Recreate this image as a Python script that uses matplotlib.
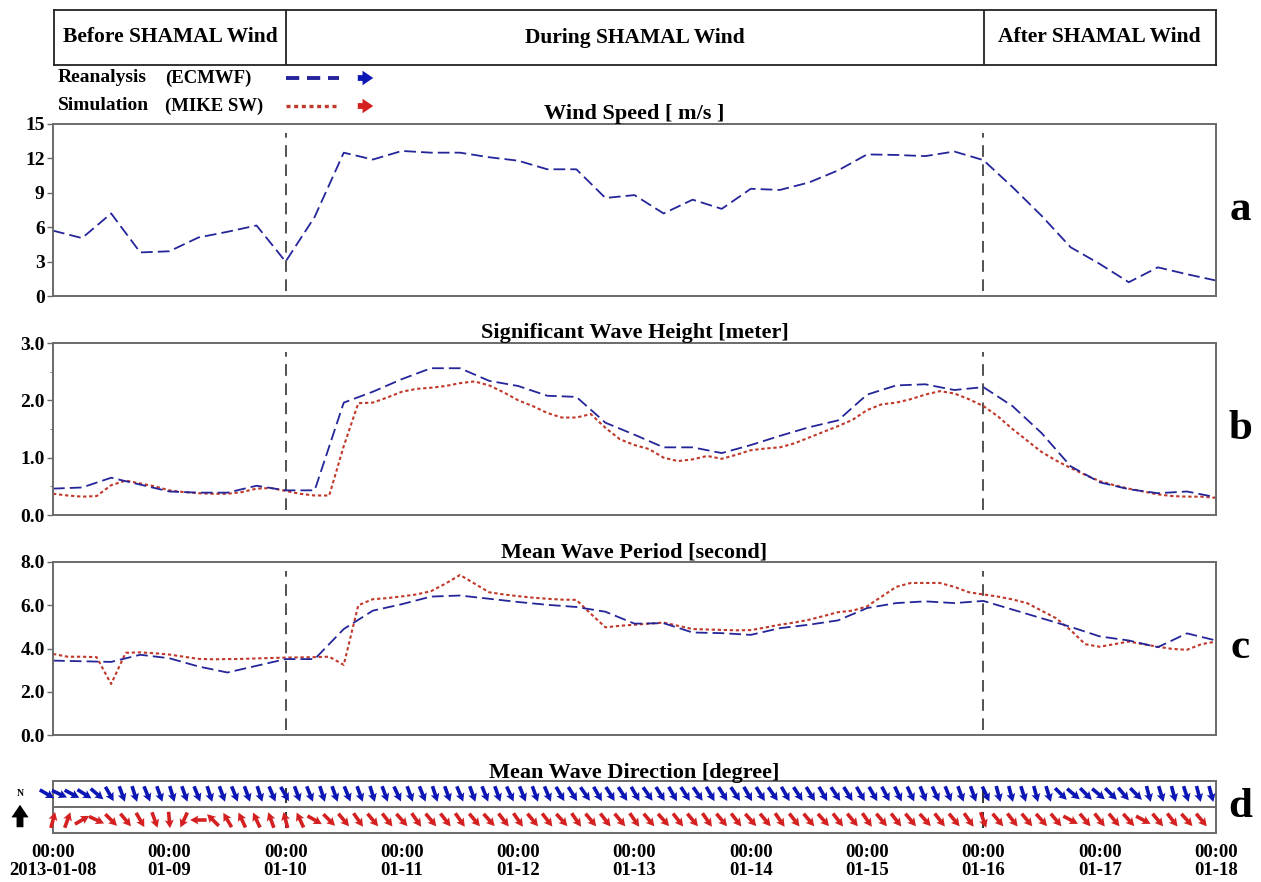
import numpy as np
import pandas as pd
import matplotlib
matplotlib.use("Agg")
import matplotlib.pyplot as plt
import matplotlib.dates as mdates
from matplotlib.lines import Line2D
from matplotlib.patches import FancyArrowPatch
from matplotlib.ticker import FormatStrFormatter, MultipleLocator

plt.rcParams['font.family'] = ['Liberation Serif', 'DejaVu Serif']
plt.rcParams['font.weight'] = 'bold'
plt.rcParams['axes.titleweight'] = 'bold'

# ---------------- data ----------------
t6 = pd.date_range('2013-01-08 00:00', periods=41, freq='6h')   # ECMWF
t3 = pd.date_range('2013-01-08 00:00', periods=81, freq='3h')   # MIKE SW

wind_ecmwf = [5.7, 5.05, 7.2, 3.8, 3.9, 5.1, 5.6, 6.15, 3.0, 6.9,
              12.5, 11.9, 12.65, 12.5, 12.5, 12.1, 11.8, 11.05, 11.05, 8.55,
              8.8, 7.2, 8.4, 7.6, 9.35, 9.25, 9.9, 10.95, 12.35, 12.3,
              12.2, 12.6, 11.85, 9.5, 7.0, 4.25, 2.8, 1.2, 2.5, 1.9,
              1.35]

hs_ecmwf = [0.46, 0.48, 0.65, 0.53, 0.41, 0.39, 0.39, 0.51, 0.43, 0.43,
            1.96, 2.15, 2.37, 2.56, 2.56, 2.34, 2.25, 2.08, 2.06, 1.61,
            1.40, 1.18, 1.18, 1.08, 1.22, 1.38, 1.53, 1.65, 2.10, 2.26,
            2.28, 2.18, 2.23, 1.90, 1.43, 0.85, 0.57, 0.45, 0.38, 0.41,
            0.31]

hs_mike = [0.37, 0.34, 0.32, 0.33, 0.52, 0.60, 0.55, 0.50, 0.43, 0.40,
           0.38, 0.37, 0.37, 0.40, 0.46, 0.47, 0.42, 0.37, 0.34, 0.34,
           1.20, 1.95, 1.96, 2.05, 2.15, 2.20, 2.22, 2.25, 2.30, 2.33,
           2.26, 2.14, 2.00, 1.90, 1.78, 1.70, 1.70, 1.76, 1.52, 1.32,
           1.22, 1.15, 1.00, 0.94, 0.97, 1.03, 0.98, 1.05, 1.13, 1.16,
           1.18, 1.25, 1.35, 1.45, 1.55, 1.66, 1.83, 1.93, 1.96, 2.02,
           2.10, 2.16, 2.12, 2.02, 1.90, 1.72, 1.50, 1.30, 1.10, 0.95,
           0.82, 0.70, 0.59, 0.52, 0.46, 0.41, 0.36, 0.33, 0.32, 0.32,
           0.30]

tm_ecmwf = [3.44, 3.41, 3.38, 3.71, 3.55, 3.17, 2.89, 3.20, 3.51, 3.51,
            4.90, 5.75, 6.05, 6.40, 6.45, 6.30, 6.15, 6.02, 5.92, 5.70,
            5.15, 5.17, 4.74, 4.71, 4.63, 4.94, 5.10, 5.30, 5.87, 6.10,
            6.18, 6.10, 6.20, 5.80, 5.40, 5.00, 4.56, 4.37, 4.06, 4.70,
            4.37]

tm_mike = [3.75, 3.62, 3.62, 3.60, 2.36, 3.80, 3.82, 3.78, 3.72, 3.62,
           3.52, 3.50, 3.51, 3.52, 3.54, 3.56, 3.58, 3.59, 3.60, 3.62,
           3.24, 6.00, 6.28, 6.33, 6.41, 6.50, 6.65, 7.00, 7.40, 7.00,
           6.60, 6.50, 6.42, 6.35, 6.30, 6.26, 6.25, 5.60, 4.98, 5.05,
           5.10, 5.15, 5.20, 5.05, 4.90, 4.88, 4.86, 4.84, 4.85, 4.97,
           5.10, 5.20, 5.33, 5.50, 5.68, 5.75, 5.95, 6.40, 6.85, 7.03,
           7.03, 7.03, 6.85, 6.60, 6.50, 6.40, 6.27, 6.10, 5.75, 5.40,
           4.85, 4.20, 4.08, 4.20, 4.32, 4.20, 4.08, 3.98, 3.94, 4.20,
           4.32]

# mean wave direction, heading of the arrow in degrees clockwise from north
dir_ecmwf_t = pd.date_range('2013-01-07 22:45', periods=94, freq='155min')
dir_ecmwf = [120, 115, 118, 122, 130, 150,
             160, 162, 158, 160, 163, 160, 158, 162, 160, 158, 160, 162, 157,
             150,
             160, 158, 162, 160, 158, 160, 163, 160, 155, 160, 158, 162, 160,
             157, 160, 158, 160, 155, 158, 160, 157,
             150, 148, 145, 150, 148, 147, 150, 145, 148, 150, 147, 145, 150,
             148, 146, 150, 148, 145, 150, 147, 148, 150, 146, 148, 150,
             150, 152, 155, 155, 158, 155, 158, 160, 160,
             155,
             165, 165, 162, 165, 163,
             135, 130, 135, 130, 135, 140, 135,
             165, 163, 165, 162, 165, 165]

dir_mike_t = pd.date_range('2013-01-08 00:00', periods=80, freq='3h')
dir_mike = [15, 20, 60, 115, 135, 140, 150, 160, 175, 205,
            270, 315, 330, 335, 335, 340, 345, 335, 120, 135,
            140, 145, 140, 142, 138, 145, 140, 142, 145, 140,
            138, 142, 145, 140, 142, 138, 145, 140, 142, 140,
            145, 140, 138, 142, 140, 145, 140, 142, 138, 140,
            145, 142, 140, 138, 142, 140, 145, 140, 142, 140,
            138, 142, 140, 145, 160, 140, 142, 140, 138, 140,
            118, 140, 142, 140, 138, 118, 140, 142, 138, 140]

day_ticks = pd.date_range('2013-01-08', '2013-01-18', freq='D')
day_labels = ['00:00\n2013-01-08'] + ['00:00\n' + d.strftime('%m-%d') for d in day_ticks[1:]]
phase_bounds = [pd.Timestamp('2013-01-10'), pd.Timestamp('2013-01-16')]
phase_names = ['Before SHAMAL Wind', 'During SHAMAL Wind', 'After SHAMAL Wind']

# ---------------- style ----------------
BLUE_LINE = '#25259a'
RED_LINE = '#c0392b'
BLUE_ARR = '#0c16b4'
RED_ARR = '#d42020'
SPINE = '#6a6a6a'
DASH_BLUE = (0, (6.5, 2.8))
DOT_RED = (0, (1.6, 1.3))
VDASH = (0, (7, 4.5))
ARROW_STYLE = 'simple,head_length=0.7,head_width=0.95,tail_width=0.38'
TITLE_SIZE = 16

W, H, DPI = 1261, 882, 100
fig = plt.figure(figsize=(W / DPI, H / DPI), dpi=DPI)


def rect(l, t, r, b):
    return [l / W, 1 - b / H, (r - l) / W, (b - t) / H]


t_start, t_end = pd.Timestamp('2013-01-08'), pd.Timestamp('2013-01-18')


def base(ax):
    ax.set_xlim(t_start, t_end)
    for s in ax.spines.values():
        s.set_color(SPINE)
        s.set_linewidth(1.4)
    ax.tick_params(axis='x', bottom=False, labelbottom=False)
    ax.tick_params(axis='y', length=4, width=1.0, color=SPINE, labelsize=14, pad=2)
    for lab in ax.get_yticklabels():
        lab.set_fontweight('bold')


# header with phases
ax_h = fig.add_axes(rect(54, 10, 1216, 65))
ax_h.set_xlim(t_start, t_end)
ax_h.set_ylim(0, 1)
ax_h.set_xticks([]); ax_h.set_yticks([])
for s in ax_h.spines.values():
    s.set_color('#222222'); s.set_linewidth(1.3)
for b in phase_bounds:
    ax_h.axvline(b, color='#222222', lw=1.3)
edges = [t_start] + phase_bounds + [t_end]
for name, a, b in zip(phase_names, edges[:-1], edges[1:]):
    ax_h.text(a + (b - a) / 2, 0.5, name, ha='center', va='center', fontsize=15.5)

# panels a - c
panels = [
    (rect(53, 124, 1216, 296), 'Wind Speed [ m/s ]', 'a', (0, 15), np.arange(0, 16, 3), '%d'),
    (rect(53, 343, 1216, 515), 'Significant Wave Height [meter]', 'b', (0, 3), np.arange(0, 3.1, 1.0), '%.1f'),
    (rect(53, 562, 1216, 735), 'Mean Wave Period [second]', 'c', (0, 8), np.arange(0, 8.1, 2.0), '%.1f'),
]
axes = []
for pos, title, letter, ylim, yt, fmt in panels:
    ax = fig.add_axes(pos)
    ax.set_ylim(*ylim)
    ax.set_yticks(yt)
    ax.yaxis.set_major_formatter(FormatStrFormatter(fmt))
    base(ax)
    ax.set_title(title, fontsize=TITLE_SIZE, pad=2)
    ax.text(1.021, 0.5, letter, transform=ax.transAxes, ha='center', va='center', fontsize=31)
    for b in phase_bounds:
        ax.axvline(b, ymin=0.03, ymax=0.95, color='#333333', lw=1.2, ls=VDASH)
    axes.append(ax)
ax_a, ax_b, ax_c = axes
ax_b.yaxis.set_minor_locator(MultipleLocator(0.5))
ax_b.tick_params(axis='y', which='minor', length=2.5, color=SPINE)

ax_a.plot(t6, wind_ecmwf, color=BLUE_LINE, lw=1.3, ls=DASH_BLUE)
ax_b.plot(t3, hs_mike, color=RED_LINE, lw=1.5, ls=DOT_RED)
ax_b.plot(t6, hs_ecmwf, color=BLUE_LINE, lw=1.3, ls=DASH_BLUE)
ax_c.plot(t3, tm_mike, color=RED_LINE, lw=1.5, ls=DOT_RED)
ax_c.plot(t6, tm_ecmwf, color=BLUE_LINE, lw=1.3, ls=DASH_BLUE)

# panel d: direction arrows
ax_d = fig.add_axes(rect(53, 781, 1216, 833))
base(ax_d)
ax_d.set_ylim(0, 2)
ax_d.set_yticks([])
ax_d.axhline(1, color=SPINE, lw=1.4)
ax_d.set_title('Mean Wave Direction [degree]', fontsize=TITLE_SIZE, pad=2)
ax_d.text(1.021, 0.5, 'd', transform=ax_d.transAxes, ha='center', va='center', fontsize=31)
for b in phase_bounds:
    ax_d.vlines([b, b], [1.15, 0.2], [1.75, 0.8], color='#111111', lw=1.2)


def arrows(ax, times, heading, y, color):
    h = np.deg2rad(np.asarray(heading, dtype=float))
    x = mdates.date2num(times)
    ax.quiver(x, np.full(len(x), y), np.sin(h), np.cos(h), color=color,
              angles='uv', pivot='middle', units='dots', width=3.6,
              headwidth=2.5, headlength=2.3, headaxislength=2.0,
              scale_units='dots', scale=1 / 16.5, zorder=3, clip_on=False)


arrows(ax_d, dir_ecmwf_t, dir_ecmwf, 1.5, BLUE_ARR)
arrows(ax_d, dir_mike_t, dir_mike, 0.5, RED_ARR)

ax_d.tick_params(axis='x', bottom=False, labelbottom=True, length=0, pad=8, labelsize=13.5)
ax_d.set_xticks(day_ticks)
ax_d.set_xticklabels(day_labels, fontweight='bold', linespacing=1.1)

# north indicator
fig.text(20 / W, 1 - 794 / H, 'N', ha='center', va='center', fontsize=7)
fig.add_artist(FancyArrowPatch(
    (20 / W, 1 - 830 / H), (20 / W, 1 - 802 / H), transform=fig.transFigure,
    arrowstyle=ARROW_STYLE, mutation_scale=13, lw=0, color='black'))

# legend
legend_rows = [('Reanalysis', '(ECMWF)', BLUE_LINE, BLUE_ARR, (0, (3.4, 2.0)), 2.8, 78),
               ('Simulation', '(MIKE SW)', RED_LINE, RED_ARR, (0, (1.2, 1.1)), 2.4, 106)]
for name, src, lc, ac, ls, lw, ypx in legend_rows:
    yf = 1 - ypx / H
    fig.text(58 / W, yf, name, ha='left', va='center', fontsize=14)
    fig.text(165 / W, yf, src, ha='left', va='center', fontsize=13.5)
    fig.add_artist(Line2D([286 / W, 339 / W], [yf, yf], transform=fig.transFigure,
                          color=lc, lw=lw, ls=ls))
    fig.add_artist(FancyArrowPatch(
        (355 / W, yf), (376 / W, yf), transform=fig.transFigure,
        arrowstyle=ARROW_STYLE, mutation_scale=11, lw=0, color=ac))

fig.savefig('out.png', dpi=DPI)
